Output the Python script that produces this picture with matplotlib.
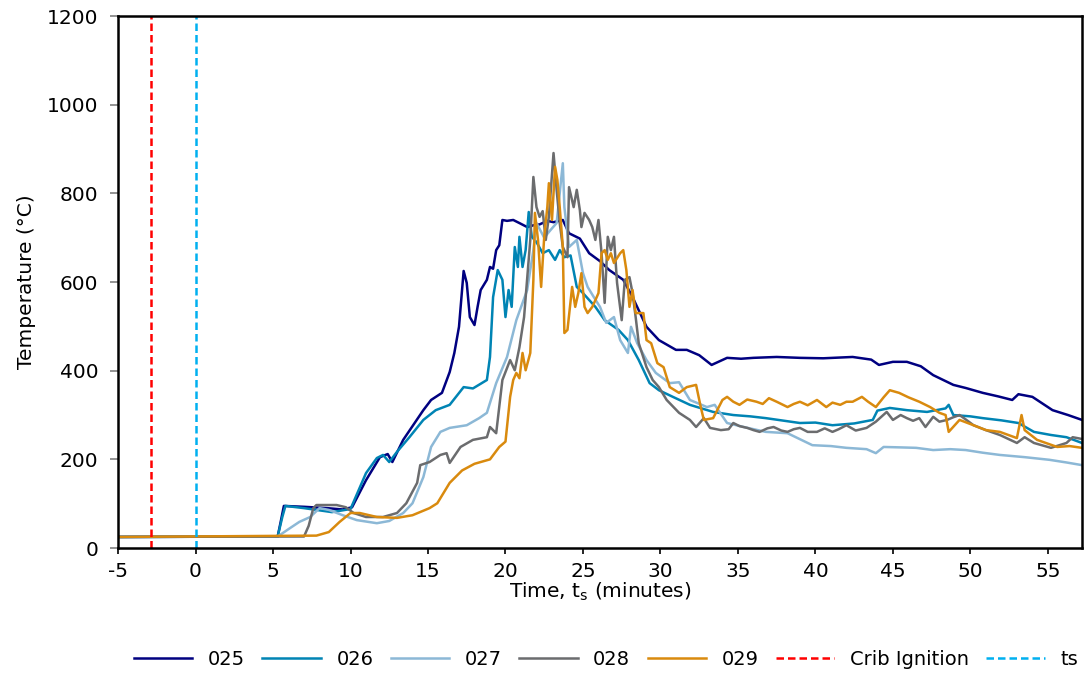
import matplotlib
matplotlib.use("Agg")
import matplotlib.pyplot as plt

plt.rcParams['font.family'] = ['DejaVu Sans']
plt.rcParams['axes.unicode_minus'] = False

# --- data (time in minutes, temperature in degC) ---
t_025 = [-5, 5.3, 5.5, 5.7, 7, 8.5, 9.5, 10.1, 11.0, 11.9, 12.4, 12.7, 13.4, 14.7, 15.2,
         15.9, 16.4, 16.7, 17.0, 17.3, 17.5, 17.7, 18.0, 18.2, 18.4, 18.8, 19.0, 19.2,
         19.4, 19.6, 19.8, 20.1, 20.5, 20.9, 21.4, 21.8, 22.2, 22.7, 23.1, 23.7, 24.1,
         24.8, 25.4, 26.1, 26.7, 27.6, 28.2, 29.1, 29.9, 31.0, 31.7, 32.5, 33.3, 34.3,
         35.2, 36.0, 37.5, 39.0, 40.5, 42.4, 43.6, 44.1, 45.0, 45.9, 46.8, 47.6, 48.9,
         49.7, 50.8, 51.8, 52.7, 53.1, 54.0, 55.3, 56.3, 57.2]
y_025 = [25, 26, 60, 95, 93, 90, 87, 92, 153, 205, 212, 194, 244, 311, 334,
         350, 397, 440, 499, 625, 598, 521, 503, 544, 582, 605, 634, 630,
         672, 683, 740, 738, 740, 733, 724, 728, 730, 738, 735, 740, 710,
         698, 665, 647, 627, 605, 566, 499, 469, 447, 447, 435, 413, 429,
         427, 429, 431, 429, 428, 431, 425, 413, 420, 420, 410, 390, 368,
         361, 350, 342, 334, 347, 341, 311, 300, 289]

t_026 = [-5, 5.3, 5.6, 5.8, 7, 8.8, 10.0, 11.0, 11.7, 12.1, 12.5, 13.0, 13.8, 14.7, 15.5,
         16.4, 17.3, 17.9, 18.8, 19.0, 19.2, 19.5, 19.8, 20.0, 20.2, 20.4, 20.6, 20.8,
         20.9, 21.1, 21.3, 21.5, 21.7, 22.0, 22.4, 22.8, 23.2, 23.5, 23.8, 24.2, 24.6,
         25.0, 25.8, 26.4, 27.3, 27.9, 28.6, 29.3, 29.9, 30.8, 31.9, 33.4, 34.7, 35.8,
         36.8, 38.0, 39.0, 40.0, 41.1, 42.5, 43.7, 44.0, 44.8, 45.9, 47.2, 48.4, 48.6,
         48.9, 50.0, 50.8, 52.0, 53.1, 54.1, 55.2, 56.2, 57.2]
y_026 = [25, 26, 70, 95, 90, 81, 88, 169, 203, 210, 194, 217, 250, 289, 311,
         323, 363, 360, 379, 431, 566, 627, 605, 521, 582, 544, 679, 634,
         702, 634, 672, 758, 702, 690, 665, 672, 650, 672, 656, 660, 589,
         575, 544, 514, 492, 469, 424, 372, 356, 341, 323, 307, 300, 297,
         293, 287, 282, 283, 277, 281, 289, 310, 316, 311, 307, 315, 323,
         300, 297, 293, 288, 282, 262, 255, 250, 237]

t_027 = [-5, 5.3, 6.1, 6.7, 7.4, 8.0, 8.6, 9.5, 10.4, 11.7, 12.5, 13.4, 14.0, 14.7, 15.2,
         15.8, 16.4, 17.5, 18.3, 18.8, 19.4, 20.1, 20.7, 21.4, 21.8, 22.0, 22.5, 22.9,
         23.3, 23.7, 23.8, 24.1, 24.6, 25.0, 25.3, 25.7, 26.1, 26.5, 27.0, 27.4, 27.9,
         28.1, 28.5, 29.1, 29.7, 30.6, 31.2, 31.9, 33.0, 33.5, 34.3, 35.5, 36.8, 38.2,
         39.8, 41.0, 42.0, 43.3, 43.9, 44.4, 45.5, 46.5, 47.6, 48.7, 49.7, 50.8, 51.9,
         53.5, 55.1, 56.2, 57.2]
y_027 = [25, 26, 45, 59, 70, 90, 86, 74, 63, 56, 61, 79, 101, 160, 228,
         262, 271, 277, 293, 305, 372, 431, 514, 582, 672, 733, 700, 717,
         733, 868, 769, 679, 695, 620, 589, 566, 544, 508, 521, 469, 440,
         499, 462, 424, 395, 372, 374, 334, 318, 323, 282, 272, 262, 259,
         232, 230, 226, 223, 214, 228, 227, 226, 221, 223, 221, 215, 210,
         205, 199, 193, 187]

t_028 = [-5, 7.0, 7.3, 7.6, 7.8, 9.1, 9.7, 10.2, 11.0, 12.1, 13.0, 13.6, 14.3, 14.5, 15.1,
         15.8, 16.2, 16.4, 17.1, 17.9, 18.8, 19.0, 19.4, 19.8, 20.3, 20.6, 20.9, 21.2,
         21.6, 21.8, 22.0, 22.2, 22.4, 22.6, 22.8, 23.1, 23.3, 23.5, 23.7, 24.0, 24.1,
         24.4, 24.6, 24.8, 24.9, 25.1, 25.4, 25.6, 25.8, 26.0, 26.2, 26.4, 26.6, 26.8,
         27.0, 27.2, 27.5, 27.7, 28.0, 28.2, 28.4, 28.6, 29.1, 29.5, 29.9, 30.4, 31.2,
         31.9, 32.3, 32.8, 33.2, 33.9, 34.4, 34.7, 35.1, 35.6, 36.0, 36.4, 36.9, 37.3,
         37.8, 38.2, 38.6, 39.0, 39.5, 40.1, 40.6, 41.1, 41.5, 42.0, 42.6, 43.3, 43.9,
         44.6, 45.0, 45.5, 45.9, 46.3, 46.7, 47.1, 47.6, 48.0, 48.5, 48.9, 49.3, 49.7,
         50.2, 51.0, 51.9, 53.0, 53.5, 54.1, 55.2, 56.2, 56.6, 57.2]
y_028 = [25, 26, 50, 90, 97, 97, 92, 79, 70, 70, 79, 101, 147, 187, 194,
         210, 214, 192, 228, 244, 250, 273, 259, 379, 424, 401, 453, 521,
         695, 837, 769, 747, 760, 695, 747, 891, 808, 733, 679, 656, 814,
         769, 808, 762, 724, 756, 740, 724, 695, 740, 665, 553, 702, 672,
         702, 598, 514, 605, 611, 575, 521, 462, 408, 379, 363, 334, 305,
         289, 273, 293, 271, 266, 268, 282, 275, 271, 266, 262, 270, 273,
         265, 262, 268, 271, 262, 262, 270, 262, 268, 277, 265, 271, 285,
         307, 289, 300, 293, 287, 293, 273, 296, 285, 289, 295, 300, 290,
         277, 266, 255, 237, 250, 237, 226, 237, 250, 246]

t_029 = [-5, 7.8, 8.6, 9.3, 10.0, 10.6, 11.7, 13.0, 14.0, 15.1, 15.6, 16.0, 16.4, 17.2,
         18.0, 19.0, 19.6, 20.0, 20.3, 20.5, 20.7, 20.9, 21.1, 21.3, 21.6, 21.8, 21.9,
         22.1, 22.3, 22.5, 22.7, 22.8, 23.0, 23.2, 23.35, 23.5, 23.7, 23.8, 24.0, 24.3,
         24.5, 24.7, 24.9, 25.1, 25.3, 25.6, 25.8, 26.0, 26.2, 26.4, 26.6, 26.8, 27.0,
         27.4, 27.6, 27.8, 28.0, 28.2, 28.4, 28.9, 29.1, 29.4, 29.8, 30.2, 30.6, 31.2,
         31.7, 32.3, 32.6, 32.8, 33.4, 34.0, 34.3, 34.7, 35.1, 35.6, 36.2, 36.6, 37.0,
         37.5, 38.2, 38.6, 39.0, 39.5, 40.1, 40.7, 41.1, 41.6, 42.0, 42.4, 43.0, 43.4,
         43.9, 44.4, 44.8, 45.4, 46.0, 46.7, 47.4, 48.0, 48.4, 48.6, 49.3, 50.2, 51.0,
         51.9, 53.0, 53.3, 53.5, 54.3, 55.6, 56.4, 57.2]
y_029 = [25, 28, 36, 59, 79, 79, 70, 68, 74, 90, 101, 124, 147, 175,
         190, 200, 228, 240, 341, 379, 395, 383, 440, 401, 440, 605, 756,
         695, 589, 702, 769, 823, 740, 860, 830, 769, 679, 485, 492, 589,
         544, 575, 620, 544, 530, 544, 559, 575, 665, 672, 650, 665, 643,
         665, 672, 627, 544, 582, 530, 530, 469, 462, 417, 408, 363, 350,
         363, 368, 318, 289, 293, 334, 341, 330, 323, 335, 330, 325, 338,
         330, 318, 325, 330, 322, 334, 318, 328, 323, 330, 330, 341, 330,
         318, 340, 356, 350, 340, 330, 318, 305, 300, 262, 289, 277, 266,
         262, 248, 300, 266, 244, 228, 230, 226]

series = [("025", t_025, y_025, "#000080"),
          ("026", t_026, y_026, "#0084B4"),
          ("027", t_027, y_027, "#8CB8D6"),
          ("028", t_028, y_028, "#6B6C6E"),
          ("029", t_029, y_029, "#D98A0E")]

crib_ignition = -2.9
ts = 0.0

fig = plt.figure(figsize=(10.86, 6.77), dpi=100)
ax = fig.add_axes([0.1087, 0.1905, 0.8876, 0.7858])

for name, t, y, c in series:
    ax.plot(t, y, color=c, lw=1.8, label=name)

ax.axvline(crib_ignition, color="#FF0000", lw=1.8, ls=(0, (3, 1.6)), label="Crib Ignition")
ax.axvline(ts, color="#00B0F0", lw=1.8, ls=(0, (3, 1.6)), label="ts")

ax.set_xlim(-5, 57.2)
ax.set_ylim(0, 1200)
ax.set_xticks(range(-5, 60, 5))
ax.set_yticks(range(0, 1201, 200))

for s in ax.spines.values():
    s.set_linewidth(1.8)
    s.set_color("black")
ax.tick_params(axis="x", direction="out", length=4, width=1.2, pad=6, labelsize=14.5)
ax.tick_params(axis="y", direction="out", length=6, width=1.2, color="#808080", pad=8, labelsize=14.5)

ax.set_xlabel(r"Time, t$_\mathregular{s}$ (minutes)", fontsize=14.5, labelpad=0)
ax.set_ylabel("Temperature (°C)", fontsize=14.5, labelpad=8)

fig.legend(loc="center", bbox_to_anchor=(0.558, 0.026), ncol=7, frameon=False,
           fontsize=14, handlelength=3.0, handletextpad=0.8, columnspacing=0.9)

fig.savefig("out.png", dpi=100)
